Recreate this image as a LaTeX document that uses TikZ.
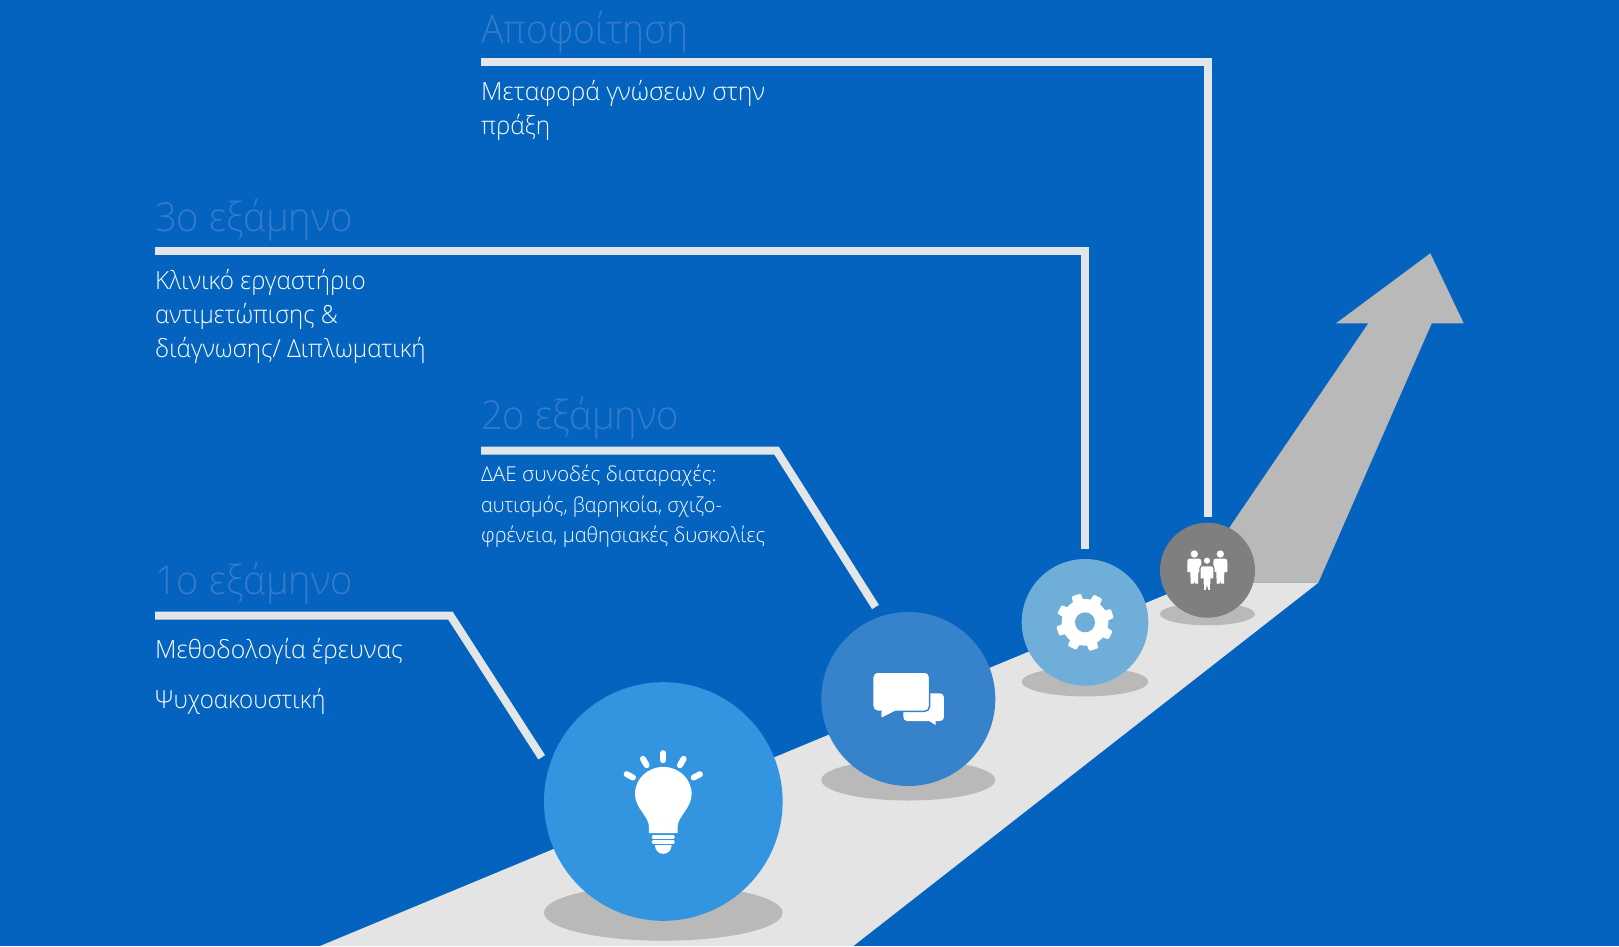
\documentclass[tikz,border=0pt]{standalone}
\usepackage{fontspec}
\usepackage{graphicx}
\setmainfont{Open Sans Light}
\definecolor{bg}{HTML}{0463BF}
\definecolor{road}{HTML}{E4E4E4}
\definecolor{greyc}{HTML}{B9B9B9}
\definecolor{cone}{HTML}{3395E0}
\definecolor{ctwo}{HTML}{3783CB}
\definecolor{cthree}{HTML}{6FAED9}
\definecolor{cfour}{HTML}{7F7F7F}
\definecolor{headc}{HTML}{347CC8}
\definecolor{rule}{HTML}{E3E6E8}
\tikzset{
 heading/.style={anchor=base west,inner sep=0pt,text=headc,font=\fontsize{40}{40}\selectfont},
 body/.style={anchor=base west,inner sep=0pt,text=white,font=\fontsize{25}{25}\selectfont},
 small/.style={anchor=base west,inner sep=0pt,text=white,font=\fontsize{20.5}{20.5}\selectfont},
 ball/.style={circle,inner sep=0pt,outer sep=0pt,minimum size=#1},
 spot/.style={fill=greyc,draw=none},
 leader/.style={draw=rule,line width=8pt,line join=miter},
 ray/.style={draw=white,line width=6pt,line cap=round}
}
\newcommand{\fitw}[2]{\resizebox{#1pt}{\height}{#2}}
\newcommand{\personshape}[2]{% x of centre, y of shoulders (zoom units)
 (#1-21,#2+40) -- (#1-21,#2+8) .. controls (#1-21,#2+2) and (#1-17,#2) .. (#1-12,#2) -- (#1+12,#2) .. controls (#1+17,#2) and (#1+21,#2+2) .. (#1+21,#2+8) -- (#1+21,#2+40) -- (#1+12,#2+40) -- (#1+11,#2+75) -- (#1+2,#2+75) -- (#1,#2+66) -- (#1-2,#2+75) -- (#1-11,#2+75) -- (#1-12,#2+40) -- cycle}
\begin{document}
\begin{tikzpicture}[x=1pt,y=-1pt]
\useasboundingbox (0,0) rectangle (1619,946);
\fill[bg] (0,0) rectangle (1619,946);
% arrow and road
\fill[greyc] (1200,582.7) -- (1230,526.7) -- (1368.3,323.3) -- (1336,323.3) -- (1430.3,253.3) -- (1463.7,323.3) -- (1431.7,323.3) -- (1318.3,582.7) -- cycle;
\fill[road] (320,946) -- (1194.7,582.7) -- (1318.3,582.7) -- (853.3,946) -- cycle;
% shadows
\fill[spot] (663.3,912.7) ellipse [x radius=119.3,y radius=28];
\fill[spot] (908.3,780) ellipse [x radius=87,y radius=20.5];
\fill[spot] (1085,681.7) ellipse [x radius=63.3,y radius=14.7];
\fill[spot] (1207.5,614) ellipse [x radius=47.5,y radius=11.3];
% balls
\node[ball=238.6pt,fill=cone] (b1) at (663.3,801.5) {};
\node[ball=174pt,fill=ctwo] (b2) at (908.3,699) {};
\node[ball=126.6pt,fill=cthree] (b3) at (1085,622.3) {};
\node[ball=95pt,fill=cfour] (b4) at (1207.5,570.2) {};
% leaders
\coordinate (s1) at (155,615.7); \coordinate (k1) at (450.5,615.7); \coordinate (e1) at (541.7,757.3);
\coordinate (s2) at (481,450.7); \coordinate (k2) at (776.6,450.7); \coordinate (e2) at (875.5,607);
\coordinate (s3) at (155,251);   \coordinate (k3) at (1085,251);    \coordinate (e3) at (1085,549.3);
\coordinate (s4) at (481,62);    \coordinate (k4) at (1208.3,62);   \coordinate (e4) at (1208.3,517.3);
\draw[leader] (s1) -- (k1) -- (e1);
\draw[leader] (s2) -- (k2) -- (e2);
\draw[leader] (s3) -- (k3) -- (e3);
\draw[leader] (s4) -- (k4) -- (e4);
% bulb
\begin{scope}[shift={(663.3,801.5)},x=0.3333pt,y=-0.3333pt]
\fill[white] (-43,95) -- (-43,75) .. controls (-43,45) and (-85,20) .. (-85,-22) .. controls (-85,-70) and (-45,-104) .. (0,-104) .. controls (45,-104) and (85,-70) .. (85,-22) .. controls (85,20) and (43,45) .. (43,75) -- (43,95) -- cycle;
\fill[white,rounded corners=1pt] (-34,101) rectangle (34,112);
\fill[white,rounded corners=1pt] (-34,116) rectangle (34,127);
\fill[white] (-25,131) -- (25,131) .. controls (25,148) and (12,157) .. (0,157) .. controls (-12,157) and (-25,148) .. (-25,131) -- cycle;
\draw[ray] (0,-145) -- (0,-124);
\draw[ray] (-61,-128) -- (-50,-109);
\draw[ray] (61,-128) -- (50,-109);
\draw[ray] (-110,-82) -- (-91,-72);
\draw[ray] (110,-82) -- (91,-72);
\end{scope}
% chat
\begin{scope}[shift={(500,650)},x=0.3333pt,y=-0.3333pt]
\fill[white] (1283,210) -- (1307,225) -- (1307,210) -- cycle;
\fill[white,rounded corners=4pt] (1210,130) rectangle (1332,213);
\fill[white] (1145,178) -- (1145,202) -- (1187,180) -- cycle;
\filldraw[fill=white,draw=ctwo,line width=1.5pt,rounded corners=5pt] (1118,66) rectangle (1289,184);
\fill[white] (1145,170) -- (1145,202) -- (1187,181) -- (1187,170) -- cycle;
\end{scope}
% gear
\begin{scope}[shift={(1085,622.3)},x=0.3333pt,y=-0.3333pt]
\fill[white] (0,0) circle [radius=70];
\foreach \a in {18,63,108,153,198,243,288,333}
 \fill[white,rotate=\a,rounded corners=1pt] (55,-17) -- (86,-14) -- (86,14) -- (55,17) -- cycle;
\fill[cthree] (0,0) circle [radius=30];
\end{scope}
% people
\begin{scope}[shift={(1000,500)},x=0.3333pt,y=-0.3333pt]
\fill[white] (583,162) circle [radius=11];
\fill[white] (661,162) circle [radius=11];
\fill[white] \personshape{583}{176};
\fill[white] \personshape{661}{176};
\filldraw[fill=white,draw=cfour,line width=1.2pt] \personshape{621}{197};
\filldraw[fill=white,draw=cfour,line width=0.8pt] (621,182) circle [radius=11];
\end{scope}
% texts
\node[heading] (h4) at (481,43) {\fitw{207.5}{Αποφοίτηση}};
\node[body] (t4a) at (481,100) {\fitw{284}{Μεταφορά γνώσεων στην}};
\node[body] (t4b) at (481,134) {\fitw{69}{πράξη}};
\node[heading] (h3) at (155,231.5) {\fitw{198}{3ο εξάμηνο}};
\node[body] (t3a) at (155,289) {\fitw{210.6}{Κλινικό εργαστήριο}};
\node[body] (t3b) at (155,323) {\fitw{182.8}{αντιμετώπισης \&}};
\node[body] (t3c) at (155,357.5) {\fitw{270.5}{διάγνωσης/ Διπλωματική}};
\node[heading] (h2) at (481,429.5) {\fitw{198}{2ο εξάμηνο}};
\node[small] (t2a) at (481,481) {\fitw{235.4}{ΔΑΕ συνοδές διαταραχές:}};
\node[small] (t2b) at (481,512) {\fitw{240.6}{αυτισμός, βαρηκοία, σχιζο-}};
\node[small] (t2c) at (481,542) {\fitw{284}{φρένεια, μαθησιακές δυσκολίες}};
\node[heading] (h1) at (155,594) {\fitw{198}{1ο εξάμηνο}};
\node[body] (t1a) at (155,658) {\fitw{247.8}{Μεθοδολογία έρευνας}};
\node[body] (t1b) at (155,708) {\fitw{170.4}{Ψυχοακουστική}};
\end{tikzpicture}
\end{document}
